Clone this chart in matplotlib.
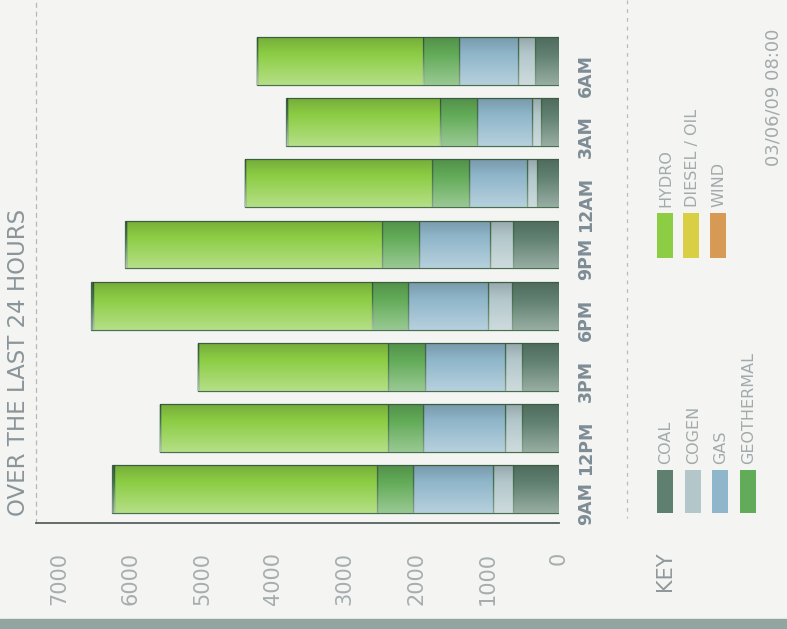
import matplotlib.pyplot as plt
import numpy as np
from matplotlib.patches import Rectangle
from matplotlib.lines import Line2D

W, H = 787, 629

# data (MW)
hours = ['9AM', '12PM', '3PM', '6PM', '9PM', '12AM', '3AM', '6AM']
coal = [644, 518, 518, 658, 644, 308, 252, 336]
cogen = [280, 238, 238, 336, 322, 140, 126, 238]
gas = [1120, 1148, 1120, 1120, 994, 812, 770, 826]
geothermal = [504, 490, 518, 504, 518, 518, 518, 504]
hydro = [3683, 3193, 2661, 3908, 3585, 2619, 2143, 2325]
diesel = [15, 0, 0, 20, 5, 0, 5, 0]
wind = [10, 5, 5, 10, 5, 5, 5, 5]
yticks = [0, 1000, 2000, 3000, 4000, 5000, 6000, 7000]

series = [coal, cogen, gas, geothermal, hydro, diesel, wind]
names = ['COAL', 'COGEN', 'GAS', 'GEOTHERMAL', 'HYDRO', 'DIESEL / OIL', 'WIND']
colors = ['#5f7f70', '#b3c7cb', '#8fb6ca', '#62ab58', '#8ccd44', '#d9cf45', '#d79a55']


def fx(x):
    return x / W


def fy(y):
    return 1 - y / H


fig = plt.figure(figsize=(W / 100, H / 100), dpi=100, facecolor='#f4f4f2')

# photo border strip at the bottom
fig.add_artist(Rectangle((0, 0), 1, fy(619), transform=fig.transFigure,
                         color='#92a5a1', zorder=0))

ax = fig.add_axes([fx(36), fy(523), fx(559) - fx(36), fy(0) - fy(523)])
ax.set_facecolor('none')

y = np.arange(len(hours))
left = np.zeros(len(hours))
# gradient overlay: darker on top, lighter below
t = np.linspace(0, 1, 60)
grad = np.zeros((60, 1, 4))
grad[:, 0, 0] = grad[:, 0, 1] = grad[:, 0, 2] = (t > 0.35).astype(float)
grad[:, 0, 3] = np.where(t > 0.35, (t - 0.35) * 0.55, (0.35 - t) * 0.45)

for vals, c in zip(series, colors):
    bars = ax.barh(y, vals, left=left, height=0.785, color=c,
                   edgecolor='#46704e', linewidth=0.9, zorder=2)
    for rect in bars:
        if rect.get_width() <= 0:
            continue
        x0 = rect.get_x()
        y0 = rect.get_y()
        im = ax.imshow(grad, extent=(x0, x0 + rect.get_width(), y0, y0 + rect.get_height()),
                       aspect='auto', zorder=3, interpolation='bilinear')
        im.set_clip_path(rect)
    left += np.array(vals)

ax.set_xlim((559 - 36) / 71.4 * 1000, 0)
ax.set_ylim(-0.556, 8.0)

for s in ['top', 'right']:
    ax.spines[s].set_visible(False)
ax.spines['bottom'].set_color('#55615f')
ax.spines['bottom'].set_linewidth(1.3)
ax.spines['left'].set_color('#b5b9b9')
ax.spines['left'].set_linestyle((0, (3, 4)))
ax.spines['left'].set_linewidth(0.9)

ax.set_xticks(yticks)
ax.set_xticklabels([str(v) for v in yticks], rotation=90, fontsize=15, color='#a5adaf')
ax.tick_params(axis='x', length=0, pad=21)

ax.yaxis.tick_right()
ax.set_yticks(y)
ax.set_yticklabels(hours, rotation=90, fontsize=12.5, fontweight='bold', color='#7d8c95')
ax.tick_params(axis='y', length=0, pad=13)

# title
fig.text(fx(19), fy(362), 'OVER THE LAST 24 HOURS', rotation=90, ha='center', va='center',
         fontsize=16.5, color='#8a9599')

# separator between chart and key
fig.add_artist(Line2D([fx(627), fx(627)], [fy(0), fy(518)], transform=fig.transFigure,
                      color='#b8bcbc', lw=0.9, linestyle=(0, (3, 4))))

fig.text(fx(665), fy(571), 'KEY', rotation=90, ha='center', va='center',
         fontsize=15, color='#8f999c')

# key entries: (x centre, swatch top, swatch bottom)
key_pos = [(665, 470, 513), (693, 470, 513), (720, 470, 513), (748, 470, 513),
           (665, 213, 258), (691, 213, 258), (718, 213, 258)]
for (kx, ktop, kbot), name, c in zip(key_pos, names, colors):
    fig.add_artist(Rectangle((fx(kx - 8), fy(kbot)), fx(16), fy(ktop) - fy(kbot),
                             transform=fig.transFigure, facecolor=c,
                             edgecolor='none', zorder=2))
    fig.text(fx(kx + 1), fy(ktop - 6), name, rotation=90, ha='center', va='bottom',
             fontsize=11.5, color='#a2aaac')

fig.text(fx(773), fy(97), '03/06/09 08:00', rotation=90, ha='center', va='center',
         fontsize=13, color='#a2aaac')

fig.savefig('out.png', dpi=100, facecolor=fig.get_facecolor())
